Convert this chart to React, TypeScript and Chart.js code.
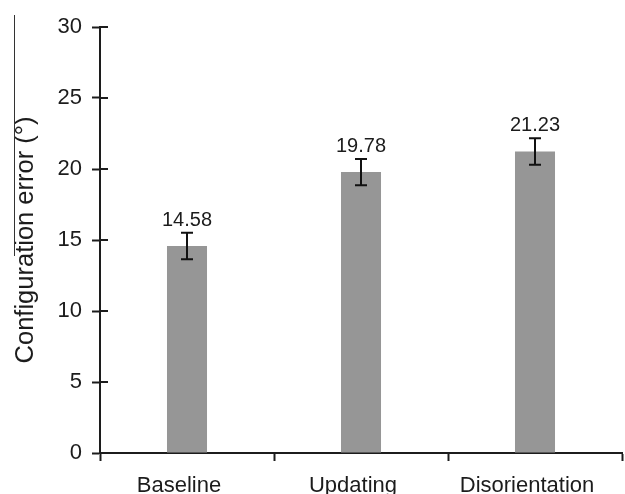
import React, { useEffect, useRef } from "react";
import { Chart, registerables } from "chart.js";

Chart.register(...registerables);

const categories = ["Baseline", "Updating", "Disorientation"];
const meanErrors = [14.58, 19.78, 21.23];
const errorMargins = [0.93, 0.92, 0.93];
const valueLabels = ["14.58", "19.78", "21.23"];
const yTicks = [0, 5, 10, 15, 20, 25, 30];

const FONT = "'Liberation Sans', Arial, sans-serif";
const INK = "#1c1c1c";

const overlayPlugin = {
  id: "overlay",
  afterDatasetsDraw(chart: any) {
    const ctx = chart.ctx;
    const y = chart.scales.y;
    const meta = chart.getDatasetMeta(0);
    ctx.save();
    // inner halves of y-axis ticks (crossing ticks)
    ctx.strokeStyle = INK;
    ctx.lineWidth = 2;
    y.ticks.forEach((_t: any, i: number) => {
      const py = Math.round(y.getPixelForTick(i));
      ctx.beginPath();
      ctx.moveTo(chart.chartArea.left, py);
      ctx.lineTo(chart.chartArea.left + 8, py);
      ctx.stroke();
    });
    // error bars and value labels
    meta.data.forEach((bar: any, i: number) => {
      const x = bar.x;
      const top = y.getPixelForValue(meanErrors[i] + errorMargins[i]);
      const bot = y.getPixelForValue(meanErrors[i] - errorMargins[i]);
      ctx.strokeStyle = "#111";
      ctx.lineWidth = 2;
      ctx.beginPath();
      ctx.moveTo(x, top);
      ctx.lineTo(x, bot);
      ctx.moveTo(x - 6, top);
      ctx.lineTo(x + 6, top);
      ctx.moveTo(x - 6, bot);
      ctx.lineTo(x + 6, bot);
      ctx.stroke();
      ctx.fillStyle = INK;
      ctx.font = `20px ${FONT}`;
      ctx.textAlign = "center";
      ctx.textBaseline = "alphabetic";
      ctx.fillText(valueLabels[i], x, top - 7);
    });
    // thin stray vertical line at left
    ctx.strokeStyle = "#333";
    ctx.lineWidth = 1;
    ctx.beginPath();
    ctx.moveTo(14.5, 15);
    ctx.lineTo(14.5, 256);
    ctx.stroke();
    ctx.restore();
  },
};

export default function App() {
  const ref = useRef<HTMLCanvasElement | null>(null);
  useEffect(() => {
    document.body.style.margin = "0";
    const chart = new Chart(ref.current as HTMLCanvasElement, {
      type: "bar",
      data: {
        labels: categories,
        datasets: [
          {
            data: meanErrors,
            backgroundColor: "#969696",
            borderWidth: 0,
            barPercentage: 0.23,
            categoryPercentage: 1,
          },
        ],
      },
      options: {
        animation: false,
        responsive: false,
        maintainAspectRatio: false,
        layout: { padding: { top: 27, right: 3, left: 0, bottom: 0 } },
        plugins: {
          legend: { display: false },
          tooltip: { enabled: false },
        },
        scales: {
          x: {
            offset: true,
            grid: {
              offset: true,
              drawOnChartArea: false,
              tickLength: 8,
              tickColor: INK,
              tickWidth: 2,
            },
            border: { color: INK, width: 2 },
            ticks: {
              color: INK,
              font: { family: FONT, size: 22 },
              padding: 12,
              labelOffset: -8,
              maxRotation: 0,
            },
            afterFit(scale: any) {
              scale.height = 41;
            },
          },
          y: {
            min: 0,
            max: 30,
            afterBuildTicks(scale: any) {
              scale.ticks = yTicks.map((v) => ({ value: v }));
            },
            grid: {
              drawOnChartArea: false,
              tickLength: 8,
              tickColor: INK,
              tickWidth: 2,
            },
            border: { color: INK, width: 2 },
            ticks: {
              color: INK,
              font: { family: FONT, size: 22 },
              padding: 10,
            },
            title: {
              display: true,
              text: "Configuration error (°)",
              color: INK,
              font: { family: FONT, size: 25.5 },
              padding: { top: 11, bottom: 0 },
            },
            afterFit(scale: any) {
              scale.width = 100;
            },
          },
        },
      },
      plugins: [overlayPlugin],
    });
    return () => chart.destroy();
  }, []);
  return (
    <div style={{ width: 625, height: 494 }}>
      <canvas ref={ref} width={625} height={494} style={{ display: "block" }} />
    </div>
  );
}
